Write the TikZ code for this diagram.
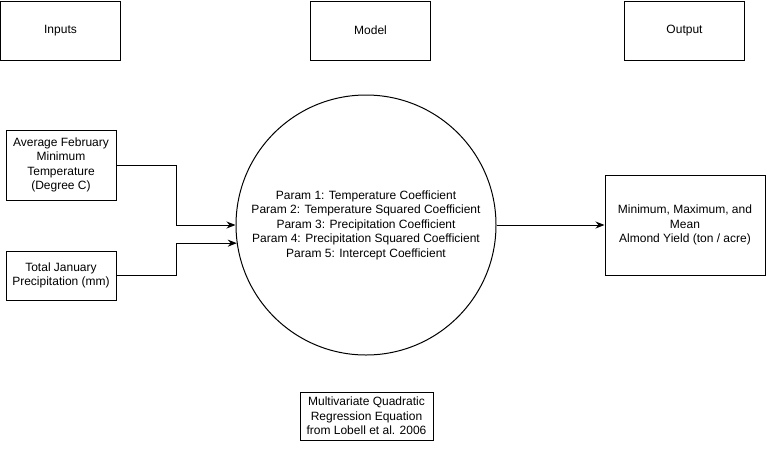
\documentclass[tikz,border=0pt]{standalone}
\usepackage{fontspec}
\setmainfont{Liberation Sans}
\usetikzlibrary{arrows.meta}
\tikzset{
box/.style={draw, line width=1pt, align=center, inner sep=0pt, font=\fontsize{12}{14.5}\selectfont},
arr/.style={line width=1pt, -{Stealth[length=9pt,width=7pt]}},
}
\begin{document}
\begin{tikzpicture}[x=1pt,y=-1pt]
\useasboundingbox (0,0) rectangle (766,451);

\node[box, minimum width=120pt, minimum height=59pt] (inputs) at (60.5,30.5) {Inputs};
\node[box, minimum width=120pt, minimum height=59pt] (modelhead) at (370.5,30.5) {Model};
\node[box, minimum width=120pt, minimum height=59pt] (outputhead) at (684.5,30.5) {Output};

\node[box, minimum width=110pt, minimum height=70pt] (tempin) at (61,165) {Average February\\Minimum\\Temperature\\(Degree C)};
\node[box, minimum width=110pt, minimum height=49pt] (precin) at (61,275.5) {Total January\\Precipitation (mm)};

\node[box, circle, minimum size=260pt] (model) at (366,225) {Param 1: Temperature Coefficient\\Param 2: Temperature Squared Coefficient\\Param 3: Precipitation Coefficient\\Param 4: Precipitation Squared Coefficient\\Param 5: Intercept Coefficient};

\node[box, minimum width=160pt, minimum height=100pt] (yield) at (685,225) {Minimum, Maximum, and\\Mean\\Almond Yield (ton / acre)};

\node[box, minimum width=133pt, minimum height=48pt] (source) at (366.5,416) {Multivariate Quadratic\\Regression Equation\\from Lobell et al. 2006};

\draw[arr] (tempin.east) -- ++(60,0) |- (model.west);
\draw[arr] (precin.east) -- ++(60,0) |- (model.188);
\draw[arr] (model.east) -- (yield.west);
\end{tikzpicture}
\end{document}
